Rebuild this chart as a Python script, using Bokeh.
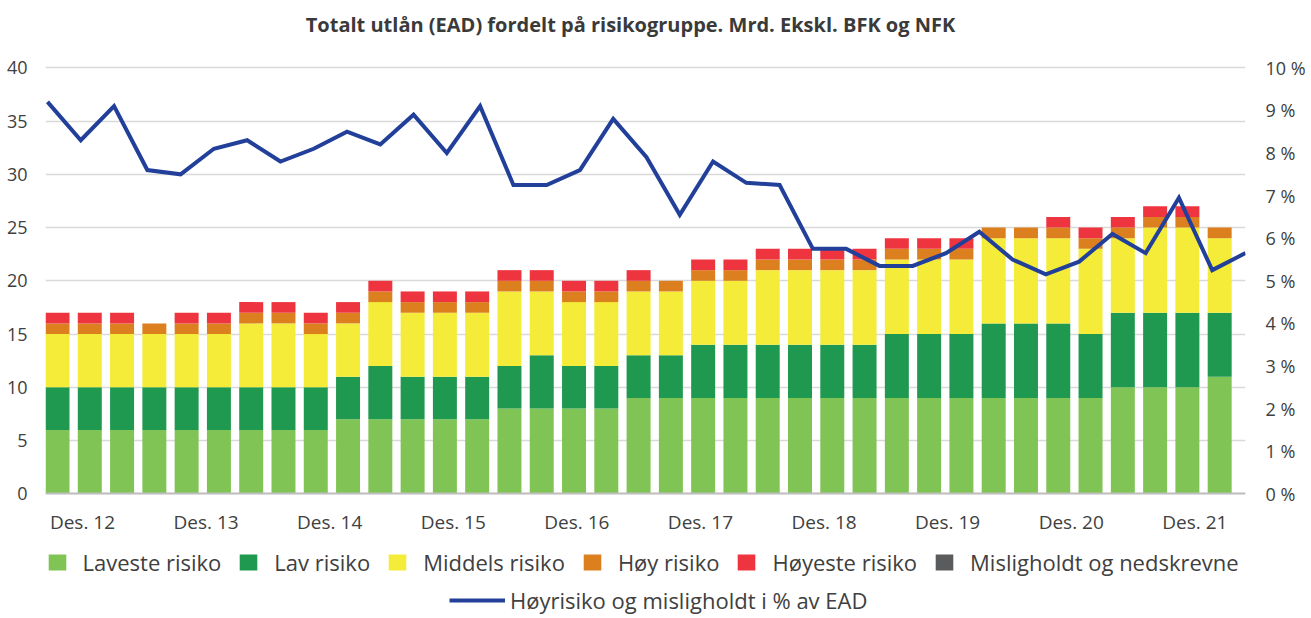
from bokeh.plotting import figure
from bokeh.models import (Range1d, LinearAxis, FixedTicker, Legend, LegendItem,
                          Label, ColumnDataSource)
from bokeh.embed import file_html
from bokeh.resources import INLINE

# ---------------- data ----------------
quarters = ["Des. 12", "Mar. 13", "Jun. 13", "Sep. 13", "Des. 13", "Mar. 14", "Jun. 14", "Sep. 14",
            "Des. 14", "Mar. 15", "Jun. 15", "Sep. 15", "Des. 15", "Mar. 16", "Jun. 16", "Sep. 16",
            "Des. 16", "Mar. 17", "Jun. 17", "Sep. 17", "Des. 17", "Mar. 18", "Jun. 18", "Sep. 18",
            "Des. 18", "Mar. 19", "Jun. 19", "Sep. 19", "Des. 19", "Mar. 20", "Jun. 20", "Sep. 20",
            "Des. 20", "Mar. 21", "Jun. 21", "Sep. 21", "Des. 21"]

laveste = [6, 6, 6, 6, 6, 6, 6, 6, 6, 7, 7, 7, 7, 7, 8, 8, 8, 8, 9, 9, 9, 9, 9, 9, 9, 9, 9, 9, 9,
           9, 9, 9, 9, 10, 10, 10, 11]
lav = [4, 4, 4, 4, 4, 4, 4, 4, 4, 4, 5, 4, 4, 4, 4, 5, 4, 4, 4, 4, 5, 5, 5, 5, 5, 5, 6, 6, 6,
       7, 7, 7, 6, 7, 7, 7, 6]
middels = [5, 5, 5, 5, 5, 5, 6, 6, 5, 5, 6, 6, 6, 6, 7, 6, 6, 6, 6, 6, 6, 6, 7, 7, 7, 7, 7, 7, 7,
           8, 8, 8, 8, 7, 8, 8, 7]
hoy = [1] * 37
hoyeste = [1, 1, 1, 0, 1, 1, 1, 1, 1, 1, 1, 1, 1, 1, 1, 1, 1, 1, 1, 0, 1, 1, 1, 1, 1, 1, 1, 1, 1,
           0, 0, 1, 1, 1, 1, 1, 0]
misligholdt = [0] * 37

hoyrisiko_pct = [9.2, 8.3, 9.1, 7.6, 7.5, 8.1, 8.3, 7.8, 8.1, 8.5, 8.2, 8.9, 8.0, 9.1, 7.25, 7.25,
                 7.6, 8.8, 7.9, 6.55, 7.8, 7.3, 7.25, 5.75, 5.75, 5.35, 5.35, 5.65, 6.15, 5.5,
                 5.15, 5.45, 6.1, 5.65, 6.95, 5.25, 5.65]

series_names = ["Laveste risiko", "Lav risiko", "Middels risiko", "Høy risiko",
                "Høyeste risiko", "Misligholdt og nedskrevne"]
line_name = "Høyrisiko og misligholdt i % av EAD"
title_text = "Totalt utlån (EAD) fordelt på risikogruppe. Mrd. Ekskl. BFK og NFK"

left_ticks = [0, 5, 10, 15, 20, 25, 30, 35, 40]
pct_ticks = [0, 1, 2, 3, 4, 5, 6, 7, 8, 9, 10]
pct_labels = ["0 %", "1 %", "2 %", "3 %", "4 %", "5 %", "6 %", "7 %", "8 %", "9 %", "10 %"]

# ---------------- styles ----------------
colors = ["#80c455", "#1f9850", "#f4ec38", "#dc801f", "#ee343f", "#5a5b5d"]
line_color = "#22409a"
FONT = "Open Sans"
TXT = "#404040"

W, H = 1311, 618
FRAME_L, FRAME_R = 45, 66
Y_BOTTOM, Y_TOP = -11.71, 46.32          # frame spans whole height; 0..40 sits at 493..67 px
PCT_SCALE = 4.0                          # 40 on left axis == 10 % on right axis

idx = list(range(len(quarters)))
des_idx = [i for i, q in enumerate(quarters) if q.startswith("Des.")]

src = ColumnDataSource(dict(x=idx, **{n: v for n, v in zip(
    series_names, [laveste, lav, middels, hoy, hoyeste, misligholdt])}))

p = figure(width=W, height=H, x_range=Range1d(-0.372, 36.80), y_range=Range1d(Y_BOTTOM, Y_TOP),
           x_axis_type=None, output_backend="svg", toolbar_location=None,
           min_border_left=FRAME_L, min_border_right=FRAME_R, min_border_top=0, min_border_bottom=0)
p.extra_x_ranges = {"line": Range1d(-0.06, 36.0), "lab": Range1d(-1.197, 37.64)}
p.extra_y_ranges = {"pct": Range1d(Y_BOTTOM / PCT_SCALE, Y_TOP / PCT_SCALE)}
p.outline_line_color = None
p.background_fill_color = "white"
p.border_fill_color = "white"

bars = p.vbar_stack(series_names, x="x", width=0.743, source=src,
                    fill_color=colors, line_color=None)
ln = p.line(idx, hoyrisiko_pct, x_range_name="line", y_range_name="pct",
            line_color=line_color, line_width=4, line_join="miter")

# left axis
ya = p.yaxis[0]
ya.ticker = FixedTicker(ticks=left_ticks)
ya.axis_line_color = None
ya.major_tick_line_color = None
ya.minor_tick_line_color = None
ya.major_label_standoff = 12
ya.major_label_text_font = FONT
ya.major_label_text_font_size = "18px"
ya.major_label_text_color = TXT

p.ygrid.ticker = FixedTicker(ticks=left_ticks)
p.ygrid.grid_line_color = "#d9d9d9"
p.ygrid.grid_line_width = 1.5

# right axis
ra = LinearAxis(y_range_name="pct", ticker=FixedTicker(ticks=pct_ticks),
                major_label_overrides={t: l for t, l in zip(pct_ticks, pct_labels)})
ra.axis_line_color = None
ra.major_tick_line_color = None
ra.minor_tick_line_color = None
ra.major_label_standoff = 14
ra.major_label_text_font = FONT
ra.major_label_text_font_size = "18px"
ra.major_label_text_color = TXT
p.add_layout(ra, "right")

# bottom axis (fixed at y = 0)
xa = LinearAxis(x_range_name="lab", ticker=FixedTicker(ticks=des_idx), fixed_location=0,
                major_label_overrides={i: quarters[i] for i in des_idx})
xa.axis_line_color = "#bfbfbf"
xa.axis_line_width = 2
xa.major_tick_line_color = None
xa.minor_tick_line_color = None
xa.major_label_standoff = 9
xa.major_label_text_font = FONT
xa.major_label_text_font_size = "19px"
xa.major_label_text_color = TXT
p.add_layout(xa, "below")

# title
p.add_layout(Label(x=585, y=H - 24, x_units="screen", y_units="screen", text=title_text,
                   text_align="center", text_baseline="middle", text_font=FONT,
                   text_font_size="20px", text_font_style="bold", text_color="#3a3a3a"))

# legends
leg1 = Legend(items=[LegendItem(label=n, renderers=[r]) for n, r in zip(series_names, bars)],
              orientation="horizontal", location=(0.5, H - 577), padding=0, margin=0,
              spacing=16, glyph_width=22, glyph_height=20, label_standoff=15,
              label_text_font=FONT, label_text_font_size="22px", label_text_color=TXT,
              background_fill_alpha=0, border_line_color=None)
p.add_layout(leg1)
leg2 = Legend(items=[LegendItem(label=line_name, renderers=[ln])],
              orientation="horizontal", location=(404, 3), padding=0, margin=0,
              glyph_width=56, glyph_height=20, label_standoff=5,
              label_text_font=FONT, label_text_font_size="22px", label_text_color=TXT,
              background_fill_alpha=0, border_line_color=None)
p.add_layout(leg2)

open("out.html", "w").write(file_html(p, INLINE))
